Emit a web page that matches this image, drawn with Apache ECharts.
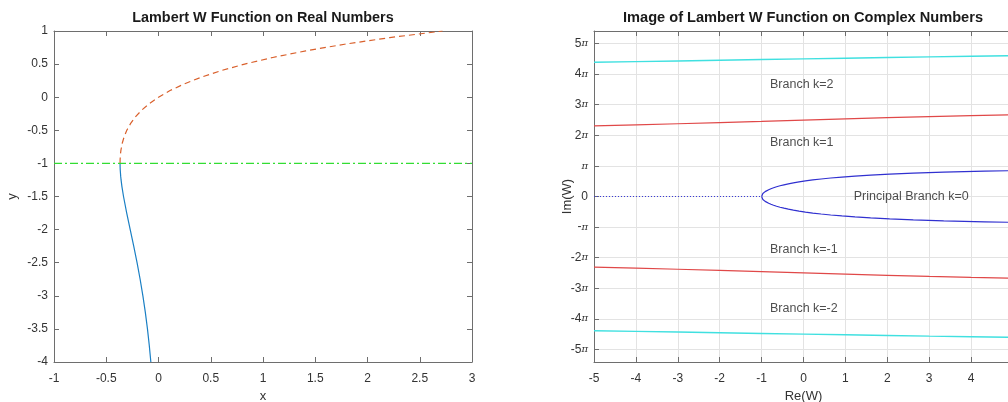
<!DOCTYPE html>
<html>
<head>
<meta charset="utf-8">
<script src="https://cdn.jsdelivr.net/npm/echarts@6/dist/echarts.min.js"></script>
<style>html,body{margin:0;padding:0;background:#fff}#c{width:1008px;height:402px}</style>
</head>
<body>
<div id="c"></div>
<script>
// ---------- Left panel: Lambert W on real numbers ----------
const leftTitle = 'Lambert W Function on Real Numbers';
// principal branch W0 (dashed), [x, y]
const w0Real = [[-0.36788,-1],[-0.36740,-0.95],[-0.36591,-0.9],[-0.36330,-0.85],[-0.35946,-0.8],[-0.34761,-0.7],[-0.32929,-0.6],[-0.30327,-0.5],[-0.26813,-0.4],[-0.22225,-0.3],[-0.16375,-0.2],[-0.09048,-0.1],[0,0],[0.11052,0.1],[0.24428,0.2],[0.40496,0.3],[0.59673,0.4],[0.82436,0.5],[1.09327,0.6],[1.40963,0.7],[1.78043,0.8],[2.21364,0.9],[2.71828,1.0]];
// lower branch W-1 (solid), [x, y]
const wm1Real = [[-0.36788,-1],[-0.36743,-1.05],[-0.36616,-1.1],[-0.36143,-1.2],[-0.35813,-1.25],[-0.34998,-1.35],[-0.33470,-1.5],[-0.30410,-1.75],[-0.27067,-2],[-0.23715,-2.25],[-0.20521,-2.5],[-0.17580,-2.75],[-0.14936,-3],[-0.12602,-3.25],[-0.10569,-3.5],[-0.08819,-3.75],[-0.07326,-4]];
// horizontal reference y = -1
const refLine = [[-1,-1],[3,-1]];

// ---------- Right panel: image on complex numbers ----------
const rightTitle = 'Image of Lambert W Function on Complex Numbers';
const principalUpper = [[5.0897,2.66],[4.9497,2.65],[4.3217,2.6],[3.3466,2.5],[2.620,2.4],[2.0551,2.3],[1.6014,2.2],[1.2282,2.1],[0.9153,2.0],[0.6491,1.9],[0.4199,1.8],[0.2209,1.7],[0.04674,1.6],[-0.1064,1.5],[-0.24147,1.4],[-0.3609,1.3],[-0.46652,1.2],[-0.5599,1.1],[-0.64209,1.0],[-0.7142,0.9],[-0.77697,0.8],[-0.8311,0.7],[-0.877,0.6],[-0.9152,0.5],[-0.94609,0.4],[-0.9698,0.3],[-0.98664,0.2],[-0.99667,0.1],[-1,0]];
const principalLower = [[-1,0],[-0.99667,-0.1],[-0.98664,-0.2],[-0.9698,-0.3],[-0.94609,-0.4],[-0.9152,-0.5],[-0.877,-0.6],[-0.8311,-0.7],[-0.77697,-0.8],[-0.7142,-0.9],[-0.64209,-1.0],[-0.5599,-1.1],[-0.46652,-1.2],[-0.3609,-1.3],[-0.24147,-1.4],[-0.1064,-1.5],[0.04674,-1.6],[0.2209,-1.7],[0.4199,-1.8],[0.6491,-1.9],[0.9153,-2.0],[1.2282,-2.1],[1.6014,-2.2],[2.0551,-2.3],[2.620,-2.4],[3.3466,-2.5],[4.3217,-2.6],[4.9497,-2.65],[5.0897,-2.66]];
const principalCut = [[-5,0],[-1,0]];
const branchReal = [-5,-4,-3,-2,-1,0,1,2,3,4,5];
const branchK1Im  = [7.250,7.356,7.472,7.597,7.725,7.854,7.979,8.096,8.204,8.303,8.391];
const branchKm1Im = [-7.250,-7.356,-7.472,-7.597,-7.725,-7.854,-7.979,-8.096,-8.204,-8.303,-8.391];
const branchK2Im  = [13.789,13.856,13.925,13.995,14.066,14.137,14.207,14.276,14.343,14.408,14.470];
const branchKm2Im = [-13.789,-13.856,-13.925,-13.995,-14.066,-14.137,-14.207,-14.276,-14.343,-14.408,-14.470];
const annotationText = ['Branch k=2','Branch k=1','Principal Branch k=0','Branch k=-1','Branch k=-2'];
const annotationRe = [-0.8,-0.8,1.2,-0.8,-0.8];
const annotationIm = [11.5,5.5,0,-5.5,-11.5];
const imTickMultiples = [-5,-4,-3,-2,-1,0,1,2,3,4,5];
const imTickLabels = ['-5π','-4π','-3π','-2π','-π','0','π','2π','3π','4π','5π'];

// ---------- styling ----------
const FONT = '"Liberation Sans", Arial, Helvetica, sans-serif';
const AX = '#6e6e6e';
const TXT = '#333333';
const GRIDC = '#e3e3e3';

function zip(xs, ys){ return xs.map((x,i)=>[x, ys[i]]); }
const imTickValues = imTickMultiples.map(m => m*Math.PI);

function axisBase(extra){
  return Object.assign({
    type:'value',
    nameMoveOverlap:false,
    axisLine:{show:true,onZero:false,lineStyle:{color:AX,width:1}},
    axisTick:{show:true,inside:true,length:5,lineStyle:{color:AX}},
    axisLabel:{color:TXT,fontFamily:FONT,fontSize:12},
    splitLine:{show:false},
    nameTextStyle:{color:TXT,fontFamily:FONT,fontSize:13}
  }, extra);
}

const chart = echarts.init(document.getElementById('c'), null, {renderer:'canvas'});
chart.setOption({
  animation:false,
  backgroundColor:'#ffffff',
  graphic:[
    {type:'text',style:{text:leftTitle,x:263,y:18,align:'center',verticalAlign:'middle',font:'bold 14.4px '+FONT,fill:'#1a1a1a'}},
    {type:'text',style:{text:rightTitle,x:803,y:18,align:'center',verticalAlign:'middle',font:'bold 14.6px '+FONT,fill:'#1a1a1a'}}
  ],
  grid:[
    {left:54,width:418,top:31,height:331,containLabel:false,outerBoundsMode:'none'},
    {left:594,width:419,top:31,height:331,containLabel:false,outerBoundsMode:'none'}
  ],
  xAxis:[
    axisBase({gridIndex:0,min:-1,max:3,interval:0.5,position:'bottom',name:'x',nameLocation:'middle',nameGap:28,
      axisLabel:{color:TXT,fontFamily:FONT,fontSize:12,margin:11}}),
    axisBase({gridIndex:0,min:-1,max:3,interval:0.5,position:'top',axisLabel:{show:false}}),
    axisBase({gridIndex:1,min:-5,max:5,interval:1,position:'bottom',name:'Re(W)',nameLocation:'middle',nameGap:28,
      axisLabel:{color:TXT,fontFamily:FONT,fontSize:12,margin:11},
      splitLine:{show:true,lineStyle:{color:GRIDC,width:1}}}),
    axisBase({gridIndex:1,min:-5,max:5,interval:1,position:'top',axisLabel:{show:false}})
  ],
  yAxis:[
    axisBase({gridIndex:0,min:-4,max:1,interval:0.5,position:'left',name:'y',nameLocation:'middle',nameGap:35,
      axisLabel:{color:TXT,fontFamily:FONT,fontSize:12,margin:6}}),
    axisBase({gridIndex:0,min:-4,max:1,interval:0.5,position:'right',axisLabel:{show:false}}),
    axisBase({gridIndex:1,min:-17,max:17,position:'left',name:'Im(W)',nameLocation:'middle',nameGap:20,
      axisTick:{show:true,inside:true,length:5,lineStyle:{color:AX},customValues:imTickValues},
      axisLabel:{customValues:imTickValues,margin:6,
        formatter:function(v){
          let idx = 0, best = Infinity;
          imTickValues.forEach((t,i)=>{ if(Math.abs(t-v)<best){best=Math.abs(t-v);idx=i;} });
          const s = imTickLabels[idx];
          if (s.indexOf('π')>=0) { const pre = s.slice(0,-1); return (pre?'{n|'+pre+'}':'')+'{p|π}'; }
          return '{n|'+s+'}';
        },
        rich:{n:{color:TXT,fontFamily:FONT,fontSize:12},p:{color:TXT,fontFamily:'"DejaVu Serif", serif',fontStyle:'italic',fontSize:10}}},
      splitLine:{show:true,lineStyle:{color:GRIDC,width:1}}}),
    axisBase({gridIndex:1,min:-17,max:17,position:'right',axisLabel:{show:false},axisTick:{show:false}})
  ],
  series:[
    {type:'line',xAxisIndex:0,yAxisIndex:0,data:wm1Real,showSymbol:false,lineStyle:{color:'#1a7fc4',width:1.2}},
    {type:'line',xAxisIndex:0,yAxisIndex:0,data:w0Real,showSymbol:false,lineStyle:{color:'#d9602c',width:1.2,type:[6,4]}},
    {type:'line',xAxisIndex:0,yAxisIndex:0,data:refLine,showSymbol:false,lineStyle:{color:'#33dd33',width:1.2,type:[8,3,2,3]}},
    {type:'line',xAxisIndex:2,yAxisIndex:2,data:principalCut,showSymbol:false,lineStyle:{color:'#3a3ad8',width:1,type:[1,2]}},
    {type:'line',xAxisIndex:2,yAxisIndex:2,data:principalUpper,showSymbol:false,lineStyle:{color:'#3030d0',width:1.2}},
    {type:'line',xAxisIndex:2,yAxisIndex:2,data:principalLower,showSymbol:false,lineStyle:{color:'#3030d0',width:1.2}},
    {type:'line',xAxisIndex:2,yAxisIndex:2,data:zip(branchReal,branchK1Im),showSymbol:false,lineStyle:{color:'#e04848',width:1.2}},
    {type:'line',xAxisIndex:2,yAxisIndex:2,data:zip(branchReal,branchKm1Im),showSymbol:false,lineStyle:{color:'#e04848',width:1.2}},
    {type:'line',xAxisIndex:2,yAxisIndex:2,data:zip(branchReal,branchK2Im),showSymbol:false,lineStyle:{color:'#40e0e0',width:1.4}},
    {type:'line',xAxisIndex:2,yAxisIndex:2,data:zip(branchReal,branchKm2Im),showSymbol:false,lineStyle:{color:'#40e0e0',width:1.4}},
    {type:'scatter',xAxisIndex:2,yAxisIndex:2,symbolSize:0,silent:true,
      data:annotationText.map((t,i)=>({name:t,value:[annotationRe[i],annotationIm[i]]})),
      label:{show:true,position:'right',distance:0,formatter:'{b}',color:'#222222',fontFamily:FONT,fontSize:12.5}}
  ]
});
</script>
</body>
</html>
